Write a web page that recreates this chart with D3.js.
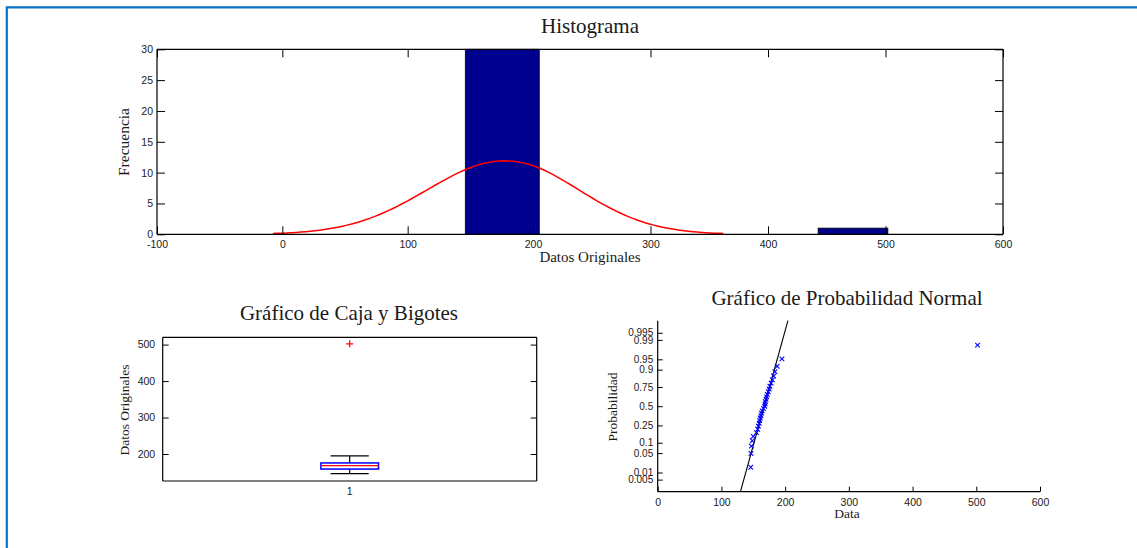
<!DOCTYPE html>
<html>
<head>
<meta charset="utf-8">
<script src="https://cdn.jsdelivr.net/npm/d3@7"></script>
<style>
  body { margin: 0; background: #fff; }
  svg { display: block; }
</style>
</head>
<body>
<svg id="fig" width="1137" height="548"></svg>
<script>
// Observaciones originales (ordenadas)
const datos = [146, 146.5, 147, 148.5, 150, 155, 157, 158, 159.5, 160, 161, 162, 163, 164, 166,
               168, 168.5, 169, 170, 171, 172, 173.5, 175, 176, 178, 180, 182, 184, 187.5, 195, 502];
const nBins = 6;
const histXTicks = [-100, 0, 100, 200, 300, 400, 500, 600];
const histYTicks = [0, 5, 10, 15, 20, 25, 30];
const boxCategories = ["1"];
const boxYTicks = [200, 300, 400, 500];
const probXTicks = [0, 100, 200, 300, 400, 500, 600];
const probYTicks = [0.005, 0.01, 0.05, 0.1, 0.25, 0.5, 0.75, 0.9, 0.95, 0.99, 0.995];

const SANS = "'Liberation Sans', Arial, sans-serif";
const SERIF = "'Liberation Serif', 'Times New Roman', serif";
const INK = "#1a1a1a";

const svg = d3.select("#fig");

// marco exterior azul (solo arriba e izquierda)
svg.append("path")
  .attr("d", "M6.8,548V7.3H1137")
  .attr("fill", "none").attr("stroke", "#0a72c4").attr("stroke-width", 2.2);

// cuantil de la normal estándar (aproximación de Acklam)
function probit(p) {
  const a = [-3.969683028665376e+01, 2.209460984245205e+02, -2.759285104469687e+02, 1.383577518672690e+02, -3.066479806614716e+01, 2.506628277459239e+00];
  const b = [-5.447609879822406e+01, 1.615858368580409e+02, -1.556989798598866e+02, 6.680131188771972e+01, -1.328068155288572e+01];
  const c = [-7.784894002430293e-03, -3.223964580411365e-01, -2.400758277161838e+00, -2.549732539343734e+00, 4.374664141464968e+00, 2.938163982698783e+00];
  const d = [7.784695709041462e-03, 3.224671290700398e-01, 2.445134137142996e+00, 3.754408661907416e+00];
  const pl = 0.02425, ph = 1 - pl;
  let q, r;
  if (p < pl) {
    q = Math.sqrt(-2 * Math.log(p));
    return (((((c[0]*q+c[1])*q+c[2])*q+c[3])*q+c[4])*q+c[5]) / ((((d[0]*q+d[1])*q+d[2])*q+d[3])*q+1);
  }
  if (p > ph) {
    q = Math.sqrt(-2 * Math.log(1 - p));
    return -(((((c[0]*q+c[1])*q+c[2])*q+c[3])*q+c[4])*q+c[5]) / ((((d[0]*q+d[1])*q+d[2])*q+d[3])*q+1);
  }
  q = p - 0.5; r = q * q;
  return (((((a[0]*r+a[1])*r+a[2])*r+a[3])*r+a[4])*r+a[5])*q / (((((b[0]*r+b[1])*r+b[2])*r+b[3])*r+b[4])*r+1);
}

function styleAxis(g, size) {
  g.attr("font-family", SANS).attr("font-size", size);
  g.selectAll(".domain").remove();
  g.selectAll(".tick line").attr("stroke", "#000").attr("stroke-width", 1);
  g.selectAll(".tick text").attr("fill", INK);
}

function frame(x0, y0, x1, y1, sides) {
  const p = d3.path();
  if (sides.includes("b")) { p.moveTo(x0, y1); p.lineTo(x1, y1); }
  if (sides.includes("l")) { p.moveTo(x0, y1); p.lineTo(x0, y0); }
  if (sides.includes("t")) { p.moveTo(x0, y0); p.lineTo(x1, y0); }
  if (sides.includes("r")) { p.moveTo(x1, y0); p.lineTo(x1, y1); }
  svg.append("path").attr("d", p.toString()).attr("fill", "none")
    .attr("stroke", "#000").attr("stroke-width", 1.2);
}

function label(text, x, y, size, rotate) {
  const t = svg.append("text")
    .attr("font-family", SERIF).attr("font-size", size).attr("fill", INK)
    .attr("text-anchor", "middle").text(text);
  if (rotate) t.attr("transform", `translate(${x},${y}) rotate(-90)`).attr("dy", "0.35em");
  else t.attr("x", x).attr("y", y);
}

const plain = v => String(v);
const n = datos.length;
const dMin = d3.min(datos), dMax = d3.max(datos);

// ---------------- Histograma ----------------
{
  const L = 157, R = 1003, T = 49.3, B = 234.3;
  const x = d3.scaleLinear().domain([-100, 200, 600]).range([L, 533, R]);
  const y = d3.scaleLinear().domain([0, 30]).range([B, T]);

  const w = (dMax - dMin) / nBins;
  const bins = d3.bin()
    .domain([dMin, dMax])
    .thresholds(d3.range(1, nBins).map(k => dMin + k * w))(datos);

  svg.append("g").selectAll("rect")
    .data(bins.filter(b => b.length > 0))
    .join("rect")
    .attr("x", b => x(b.x0))
    .attr("width", b => x(b.x1) - x(b.x0))
    .attr("y", b => y(b.length))
    .attr("height", b => y(0) - y(b.length))
    .attr("fill", "#00008f").attr("stroke", "#000").attr("stroke-width", 0.8);

  // curva normal ajustada (media y desviación de los datos)
  const mu = d3.mean(datos), sd = d3.deviation(datos);
  const xs = d3.range(0, 101).map(i => mu - 3 * sd + i * 6 * sd / 100);
  const pdf = v => Math.exp(-0.5 * ((v - mu) / sd) ** 2) / (sd * Math.sqrt(2 * Math.PI));
  svg.append("path")
    .datum(xs)
    .attr("d", d3.line().x(v => x(v)).y(v => y(n * w * pdf(v))))
    .attr("fill", "none").attr("stroke", "#ff0000").attr("stroke-width", 1.5);

  styleAxis(svg.append("g").attr("transform", `translate(0,${B})`)
    .call(d3.axisBottom(x).tickValues(histXTicks).tickSize(-8).tickPadding(6).tickFormat(plain)), 10.5);
  styleAxis(svg.append("g").attr("transform", `translate(0,${T})`)
    .call(d3.axisTop(x).tickValues(histXTicks).tickSize(-8).tickFormat("")), 10.5);
  styleAxis(svg.append("g").attr("transform", `translate(${L},0)`)
    .call(d3.axisLeft(y).tickValues(histYTicks).tickSize(-8).tickPadding(4).tickFormat(plain)), 10.5);
  styleAxis(svg.append("g").attr("transform", `translate(${R},0)`)
    .call(d3.axisRight(y).tickValues(histYTicks).tickSize(-8).tickFormat("")), 10.5);
  frame(L, T, R, B, "bltr");

  label("Histograma", 590, 33, 21);
  label("Datos Originales", 590, 262, 15);
  label("Frecuencia", 124, 142, 15.5, true);
}

// ---------------- Gráfico de Caja y Bigotes ----------------
{
  const L = 162.7, R = 536.7, T = 337.3, B = 481;
  const x = d3.scaleBand().domain(boxCategories).range([L, R]);
  const y = d3.scaleLinear().domain([126, 520]).range([B, T]);

  const q1 = d3.quantile(datos, 0.25), med = d3.median(datos), q3 = d3.quantile(datos, 0.75);
  const iqr = q3 - q1;
  const lowW = d3.min(datos.filter(v => v >= q1 - 1.5 * iqr));
  const highW = d3.max(datos.filter(v => v <= q3 + 1.5 * iqr));
  const outliers = datos.filter(v => v < lowW || v > highW);

  const cx = x("1") + x.bandwidth() / 2;
  const halfBox = x.bandwidth() * 0.077, halfCap = x.bandwidth() * 0.051;
  const g = svg.append("g");

  // bigotes
  g.append("path")
    .attr("d", `M${cx},${y(q3)}V${y(highW)}M${cx - halfCap},${y(highW)}H${cx + halfCap}` +
               `M${cx},${y(q1)}V${y(lowW)}M${cx - halfCap},${y(lowW)}H${cx + halfCap}`)
    .attr("fill", "none").attr("stroke", "#000").attr("stroke-width", 1.2);
  // caja
  g.append("rect")
    .attr("x", cx - halfBox).attr("width", 2 * halfBox)
    .attr("y", y(q3)).attr("height", y(q1) - y(q3))
    .attr("fill", "none").attr("stroke", "#0000ff").attr("stroke-width", 1.5);
  // mediana
  g.append("line")
    .attr("x1", cx - halfBox).attr("x2", cx + halfBox)
    .attr("y1", y(med)).attr("y2", y(med))
    .attr("stroke", "#ff0000").attr("stroke-width", 1.3);
  // atípicos
  g.selectAll("path.out").data(outliers).join("path").attr("class", "out")
    .attr("d", v => `M${cx - 3.5},${y(v)}H${cx + 3.5}M${cx},${y(v) - 3.5}V${y(v) + 3.5}`)
    .attr("stroke", "#ff0000").attr("stroke-width", 1.2);

  styleAxis(svg.append("g").attr("transform", `translate(${L},0)`)
    .call(d3.axisLeft(y).tickValues(boxYTicks).tickSize(-6).tickPadding(7.5).tickFormat(plain)), 10.5);
  styleAxis(svg.append("g").attr("transform", `translate(${R},0)`)
    .call(d3.axisRight(y).tickValues(boxYTicks).tickSize(-6).tickFormat("")), 10.5);
  styleAxis(svg.append("g").attr("transform", `translate(0,${B})`)
    .call(d3.axisBottom(x).tickSize(0).tickPadding(7)), 10.5);
  frame(L, T, R, B, "bltr");

  label("Gráfico de Caja y Bigotes", 349, 320, 21);
  label("Datos Originales", 124, 410, 13.5, true);
}

// ---------------- Gráfico de Probabilidad Normal ----------------
{
  const L = 657.7, R = 1040, T = 320.7, B = 491.7;
  const x = d3.scaleLinear().domain([0, 600]).range([L, R]);
  const y = d3.scaleLinear().domain([-3, 3]).range([B, T]);

  const q1 = d3.quantile(datos, 0.25), q3 = d3.quantile(datos, 0.75);
  const zq = probit(0.75);
  const slope = (q3 - q1) / (2 * zq), mid = (q1 + q3) / 2;
  svg.append("line")
    .attr("x1", x(mid + slope * -3)).attr("y1", y(-3))
    .attr("x2", x(mid + slope * 3)).attr("y2", y(3))
    .attr("stroke", "#000").attr("stroke-width", 1.1);

  const pts = datos.map((v, i) => [v, probit((i + 0.5) / n)]);
  svg.append("g").selectAll("path").data(pts).join("path")
    .attr("d", ([v, z]) => {
      const px = x(v), py = y(z), s = 2.3;
      return `M${px - s},${py - s}L${px + s},${py + s}M${px - s},${py + s}L${px + s},${py - s}`;
    })
    .attr("stroke", "#0000ff").attr("stroke-width", 1.1).attr("fill", "none");

  styleAxis(svg.append("g").attr("transform", `translate(0,${B})`)
    .call(d3.axisBottom(x).tickValues(probXTicks).tickSize(-5).tickPadding(6.5).tickFormat(plain)), 10.5);
  styleAxis(svg.append("g").attr("transform", `translate(${L},0)`)
    .call(d3.axisLeft(y).tickValues(probYTicks.map(probit)).tickSize(-5).tickPadding(4.5)
      .tickFormat((z, i) => String(probYTicks[i]))), 10);
  frame(L, T, R, B, "bl");

  label("Gráfico de Probabilidad Normal", 847, 305, 21);
  label("Data", 847, 518, 13.5);
  label("Probabilidad", 612, 407, 13.5, true);
}
</script>
</body>
</html>
